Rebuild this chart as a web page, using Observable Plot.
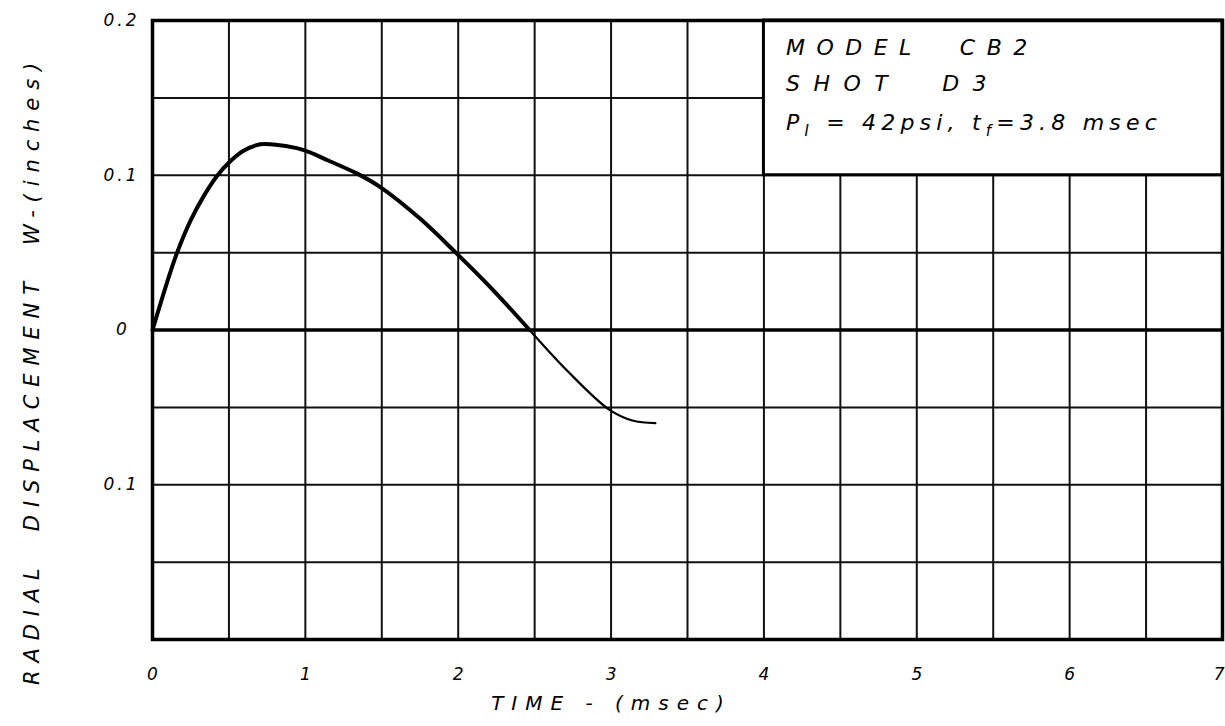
<!DOCTYPE html>
<html>
<head>
<meta charset="utf-8">
<script src="https://cdn.jsdelivr.net/npm/d3@7"></script>
<script src="https://cdn.jsdelivr.net/npm/@observablehq/plot@0.6"></script>
<style>
  html, body { margin: 0; padding: 0; background: #fff; }
  #chart svg { display: block; background: #fff; font-family: "DejaVu Sans", sans-serif; font-style: italic; }
</style>
</head>
<body>
<div id="chart"></div>
<script>
// Curve (time in msec, radial displacement W in inches)
const timeMain = [0, 0.096, 0.161, 0.248, 0.335, 0.422, 0.509, 0.596, 0.705, 0.792, 0.944, 1.03, 1.15, 1.336, 1.488, 1.75, 1.989, 2.228, 2.467];
const wMain    = [0, 0.031, 0.050, 0.0705, 0.0865, 0.0995, 0.109, 0.1158, 0.12, 0.1198, 0.1175, 0.1148, 0.1095, 0.1012, 0.0925, 0.072, 0.0495, 0.0258, 0];
const timeTail = [2.467, 2.71, 2.99, 3.14, 3.29];
const wTail    = [0, -0.026, -0.0516, -0.0585, -0.0602];

// Grid and ticks
const xGrid = [0.5, 1, 1.5, 2, 2.5, 3, 3.5, 4, 4.5, 5, 5.5, 6, 6.5];
const yGrid = [-0.15, -0.1, -0.05, 0.05, 0.1, 0.15];
const xTicks = [0, 1, 2, 3, 4, 5, 6, 7];
const xTickLabels = ["0", "1", "2", "3", "4", "5", "6", "7"];
const yTicks = [0.2, 0.1, 0, -0.1];
const yTickLabels = ["0.2", "0.1", "0", "0.1"];

// Note box
const boxX = [4, 7];
const boxY = [0.1, 0.2];
const noteLines = ["MODEL  CB2", "SHOT  D3", "P_I = 42psi, t_f=3.8 msec"];

const xTitle = "TIME - (msec)";
const yTitle = "RADIAL  DISPLACEMENT  W-(inches)";

const mainData = timeMain.map((t, i) => ({t, w: wMain[i]}));
const tailData = timeTail.map((t, i) => ({t, w: wTail[i]}));

const noteDy = [27, 63, 102];
const noteSpacing = [11.5, 13.5, 5.2];

const chart = Plot.plot({
  width: 1225,
  height: 726,
  marginLeft: 152,
  marginRight: 3,
  marginTop: 20,
  marginBottom: 87,
  x: {domain: [0, 7], axis: null},
  y: {domain: [-0.2, 0.2], axis: null},
  marks: [
    Plot.ruleX(xGrid, {stroke: "#111", strokeWidth: 2}),
    Plot.ruleY(yGrid, {stroke: "#111", strokeWidth: 2}),
    Plot.rect([{x1: boxX[0], x2: boxX[1], y1: boxY[0], y2: boxY[1]}], {x1: "x1", x2: "x2", y1: "y1", y2: "y2", fill: "white", stroke: "#000", strokeWidth: 3}),
    Plot.ruleY([0], {stroke: "#000", strokeWidth: 3.5}),
    Plot.frame({stroke: "#000", strokeWidth: 3.5}),
    Plot.line(mainData, {x: "t", y: "w", curve: "catmull-rom", stroke: "#000", strokeWidth: 4}),
    Plot.line(tailData, {x: "t", y: "w", curve: "catmull-rom", stroke: "#000", strokeWidth: 2.2}),
    ...noteLines.map((line, i) => Plot.text([line], {
      x: boxX[0], y: boxY[1], text: d => d,
      dx: 22, dy: noteDy[i], textAnchor: "start", fontSize: 22, fill: "#000"
    })),
    Plot.text(xTicks.slice(0, -1), {x: d => d, text: (d, i) => xTickLabels[i], frameAnchor: "bottom", dy: 40, fontSize: 17, textAnchor: "middle", fill: "#000"}),
    Plot.text(xTicks.slice(-1), {x: d => d, text: () => xTickLabels[xTickLabels.length - 1], frameAnchor: "bottom", dy: 40, dx: 2, fontSize: 17, textAnchor: "end", fill: "#000"}),
    Plot.text(yTicks, {y: d => d, text: (d, i) => yTickLabels[i], frameAnchor: "left", dx: -31, fontSize: 17, textAnchor: "middle", fill: "#000"}),
    Plot.text([xTitle], {text: d => d, frameAnchor: "bottom", dx: 611 - (152 + 1222) / 2, dy: 70, fontSize: 20, textAnchor: "middle", fill: "#000"}),
    Plot.text([yTitle], {text: d => d, frameAnchor: "left", rotate: -90, dx: -120, dy: 40, fontSize: 21, textAnchor: "middle", fill: "#000"})
  ]
});

// Letter spacing and subscripts
const svg = d3.select(chart);
svg.selectAll("text").each(function() {
  const s = this.textContent;
  const sel = d3.select(this);
  const idx = noteLines.indexOf(s);
  if (idx >= 0) {
    sel.attr("letter-spacing", noteSpacing[idx]);
    if (s.startsWith("P_I")) {
      sel.text(null);
      sel.append("tspan").text("P");
      sel.append("tspan").attr("dy", 6).attr("font-size", 15).text("I");
      sel.append("tspan").attr("dy", -6).text(" = 42psi, t");
      sel.append("tspan").attr("dy", 6).attr("font-size", 15).text("f");
      sel.append("tspan").attr("dy", -6).text("=3.8 msec");
    }
  } else if (s === xTitle) {
    sel.attr("letter-spacing", 8);
  } else if (s === yTitle) {
    sel.attr("letter-spacing", 7.9);
  } else if (yTickLabels.includes(s) && s.length > 1) {
    sel.attr("letter-spacing", 3);
  }
});

document.getElementById("chart").appendChild(chart);
</script>
</body>
</html>
